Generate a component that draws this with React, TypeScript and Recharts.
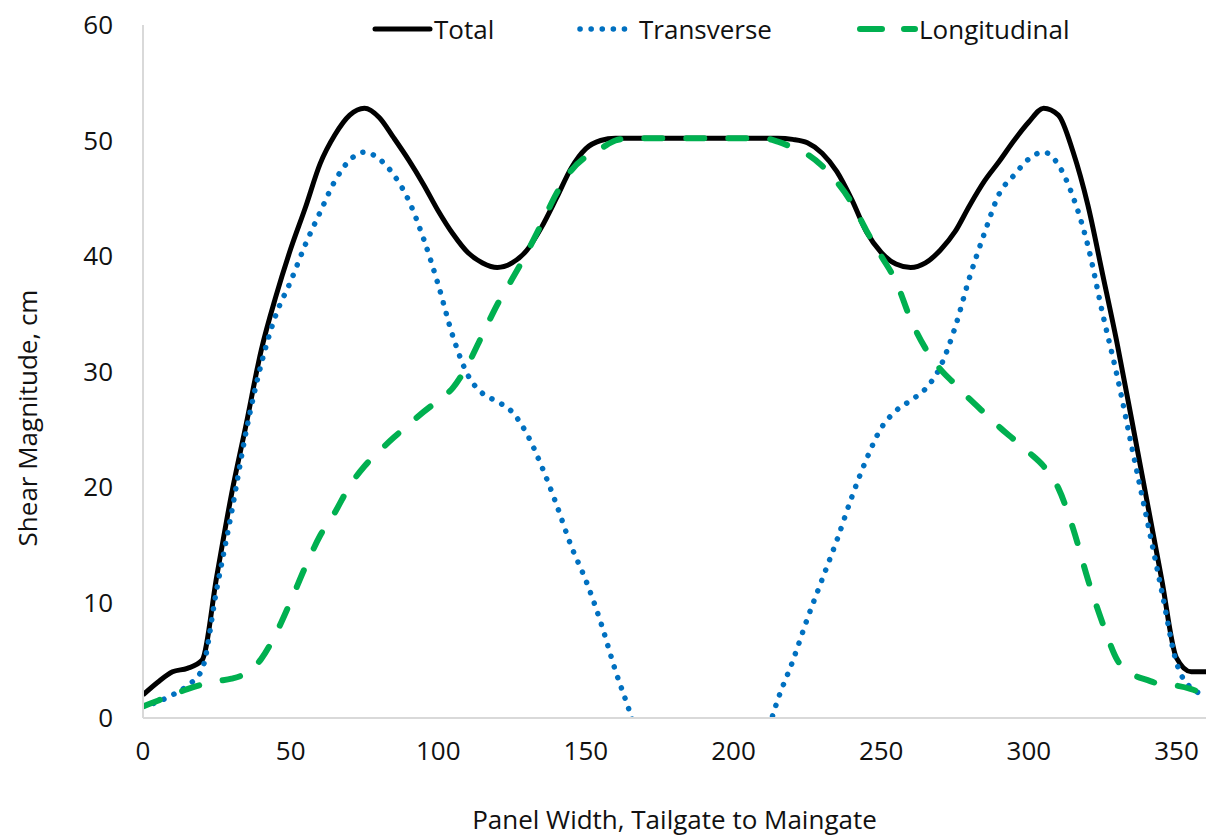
import { LineChart, Line, XAxis, YAxis, Legend, Label } from 'recharts';

// Panel width positions (every 5 units)
const positions = [
  0, 5, 10, 15, 20, 25, 30, 35, 40, 45, 50, 55, 60, 65, 70, 75, 80, 85, 90, 95,
  100, 105, 110, 115, 120, 125, 130, 135, 140, 145, 150, 155, 160, 165, 170, 175, 180, 185, 190, 195,
  200, 205, 210, 215, 220, 225, 230, 235, 240, 245, 250, 255, 260, 265, 270, 275, 280, 285, 290, 295,
  300, 305, 310, 315, 320, 325, 330, 335, 340, 345, 350, 355, 360,
];

const total = [
  2.0, 3.1, 4.0, 4.3, 5.0, 12.3, 19.4, 25.5, 31.8, 36.5, 40.6, 44.2, 48.0, 50.5, 52.2, 52.8, 52.0, 50.2, 48.3, 46.2,
  43.9, 41.9, 40.3, 39.4, 39.0, 39.4, 40.5, 42.5, 45.0, 47.6, 49.3, 50.0, 50.2, 50.2, 50.2, 50.2, 50.2, 50.2, 50.2, 50.2,
  50.2, 50.2, 50.2, 50.2, 50.1, 49.8, 48.9, 47.3, 44.9, 42.1, 40.3, 39.3, 39.0, 39.4, 40.5, 42.1, 44.4, 46.5, 48.2, 50.0,
  51.6, 52.8, 52.2, 49.0, 44.4, 38.4, 32.3, 25.6, 18.8, 12.0, 5.2, 4.0, 4.0,
];

// transverse dips below the axis between ~166 and ~213 (clipped off the chart)
const transverse: (number | null)[] = [
  1.0, 1.4, 2.0, 2.8, 4.2, 11.2, 17.8, 24.9, 30.6, 34.9, 37.8, 41.0, 43.8, 46.5, 48.3, 49.0, 48.4, 47.0, 44.8, 41.5,
  37.5, 33.0, 29.7, 28.1, 27.4, 26.5, 24.6, 21.8, 18.5, 14.9, 11.9, 8.3, 4.1, 0.4, -3.8, null, null, null, null, null,
  null, null, -2.6, 1.6, 4.9, 8.6, 12.0, 15.4, 19.1, 22.4, 25.1, 26.6, 27.5, 28.5, 30.4, 33.8, 38.2, 42.0, 45.4, 47.0,
  48.4, 49.0, 47.9, 45.1, 40.9, 35.0, 29.5, 23.3, 17.2, 11.0, 4.8, 2.6, 2.0,
];

const longitudinal = [
  1.0, 1.5, 2.0, 2.5, 2.9, 3.2, 3.4, 3.9, 5.1, 7.3, 10.1, 13.1, 15.8, 17.8, 20.1, 21.8, 23.1, 24.3, 25.4, 26.5,
  27.5, 28.6, 30.6, 33.2, 35.8, 38.0, 40.3, 42.8, 45.4, 47.4, 48.6, 49.3, 50.0, 50.2, 50.2, 50.2, 50.2, 50.2, 50.2, 50.2,
  50.2, 50.2, 50.2, 49.9, 49.4, 48.8, 47.8, 46.4, 44.6, 42.2, 40.0, 37.8, 34.5, 32.0, 30.2, 28.9, 27.6, 26.4, 25.2, 24.1,
  23.0, 21.8, 19.9, 16.4, 12.0, 8.2, 5.0, 3.8, 3.3, 2.9, 2.8, 2.5, 2.0,
];

const xTicks = [0, 50, 100, 150, 200, 250, 300, 350];
const yTicks = [0, 10, 20, 30, 40, 50, 60];

const BLACK = '#000000';
const BLUE = '#0070C0';
const GREEN = '#00B050';
const FONT = '"Open Sans", Lato, sans-serif';
const TEXT = '#111';
const FS = 26;

const data = positions.map((x, i) => ({
  x,
  total: total[i],
  transverse: transverse[i],
  longitudinal: longitudinal[i],
}));

const legendItems = [
  { key: 'total', label: 'Total', color: BLACK, dash: undefined, width: 5, itemWidth: 205 },
  { key: 'transverse', label: 'Transverse', color: BLUE, dash: '0.1 11', width: 5.5, itemWidth: 280 },
  { key: 'longitudinal', label: 'Longitudinal', color: GREEN, dash: '22 22', width: 6, itemWidth: 260 },
];

function renderLegend() {
  return (
    <div style={{ display: 'flex', alignItems: 'center', fontFamily: FONT, fontSize: FS, color: TEXT }}>
      {legendItems.map((it) => (
        <div key={it.key} style={{ display: 'flex', alignItems: 'center', width: it.itemWidth }}>
          <svg width={63} height={12} style={{ display: 'block' }}>
            <line
              x1={4}
              y1={6}
              x2={59}
              y2={6}
              stroke={it.color}
              strokeWidth={it.width}
              strokeDasharray={it.dash}
              strokeLinecap="round"
            />
          </svg>
          <span>{it.label}</span>
        </div>
      ))}
    </div>
  );
}

export default function App() {
  return (
    <div style={{ position: 'absolute', left: 0, top: 0, width: 1208, height: 836, background: '#fff', fontFamily: FONT }}>
      <LineChart width={1208} height={836} data={data} margin={{ top: 25, right: 2, left: 0, bottom: 0 }}>
        <XAxis
          dataKey="x"
          type="number"
          domain={[0, 360]}
          ticks={xTicks}
          allowDataOverflow
          axisLine={{ stroke: '#d9d9d9', strokeWidth: 2 }}
          tickLine={false}
          tickMargin={18}
          height={118}
          tick={{ fontSize: FS, fill: TEXT, fontFamily: FONT }}
        >
          <Label
            content={({ viewBox }: any) => (
              <text
                x={viewBox.x + viewBox.width / 2}
                y={viewBox.y + 111}
                textAnchor="middle"
                fontSize={FS}
                fill={TEXT}
                fontFamily={FONT}
              >
                Panel Width, Tailgate to Maingate
              </text>
            )}
          />
        </XAxis>
        <YAxis
          type="number"
          domain={[0, 60]}
          ticks={yTicks}
          allowDataOverflow
          width={143}
          axisLine={{ stroke: '#d9d9d9', strokeWidth: 2 }}
          tickLine={false}
          tickMargin={24}
          tick={{ fontSize: FS, fill: TEXT, fontFamily: FONT }}
        >
          <Label
            content={() => (
              <text
                x={27}
                y={418}
                transform="rotate(-90 27 418)"
                textAnchor="middle"
                dominantBaseline="central"
                fontSize={FS}
                fill={TEXT}
                fontFamily={FONT}
              >
                Shear Magnitude, cm
              </text>
            )}
          />
        </YAxis>
        <Legend
          verticalAlign="middle"
          layout="horizontal"
          content={renderLegend}
          wrapperStyle={{ top: 11, left: 371, width: 800 }}
        />
        <Line
          type="monotone"
          dataKey="total"
          name="Total"
          stroke={BLACK}
          strokeWidth={5}
          dot={false}
          isAnimationActive={false}
        />
        <Line
          type="monotone"
          dataKey="transverse"
          name="Transverse"
          stroke={BLUE}
          strokeWidth={5.5}
          strokeDasharray="0.1 11"
          strokeLinecap="round"
          dot={false}
          isAnimationActive={false}
        />
        <Line
          type="monotone"
          dataKey="longitudinal"
          name="Longitudinal"
          stroke={GREEN}
          strokeWidth={6}
          strokeDasharray="18 24"
          strokeLinecap="round"
          dot={false}
          isAnimationActive={false}
        />
      </LineChart>
    </div>
  );
}
